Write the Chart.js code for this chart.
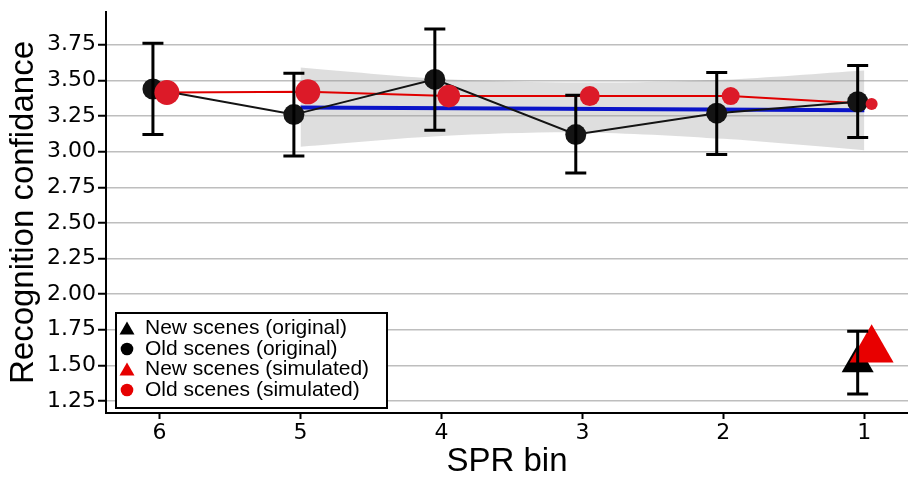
<!DOCTYPE html>
<html>
<head>
<meta charset="utf-8">
<script src="https://cdn.jsdelivr.net/npm/chart.js@4.4.0/dist/chart.umd.min.js"></script>
<style>
  html, body { margin: 0; padding: 0; background: #fff; }
  #wrap { width: 908px; height: 478px; }
</style>
</head>
<body>
<div id="wrap"><canvas id="confianza" width="908" height="478"></canvas></div>
<script>
// Bins de SPR (el eje x va de 6 a 1)
const bins = [6, 5, 4, 3, 2, 1];
const yTicks = [1.25, 1.5, 1.75, 2.0, 2.25, 2.5, 2.75, 3.0, 3.25, 3.5, 3.75];

// Escenas viejas (original): media e intervalo
const oldOrigMean = [3.44, 3.26, 3.507, 3.12, 3.27, 3.35];
const oldOrigLow = [3.12, 2.97, 3.15, 2.85, 2.98, 3.10];
const oldOrigHigh = [3.76, 3.55, 3.86, 3.395, 3.555, 3.605];

// Escenas viejas (simulado)
const oldSimMean = [3.415, 3.42, 3.39, 3.39, 3.39, 3.335];

// Escenas nuevas, solo en el bin 1
const newBins = [1];
const newOrigMean = [1.516];
const newOrigLow = [1.30];
const newOrigHigh = [1.74];
const newSimMean = [1.61];

// Ajuste lineal y su banda de confianza (bins 5 a 1)
const fitBins = [5, 1];
const fitValues = [3.31, 3.29];
const bandBins = [5, 4, 3, 2, 1];
const bandUpper = [3.59, 3.51, 3.485, 3.505, 3.57];
const bandLower = [3.035, 3.11, 3.135, 3.09, 3.01];

// Desplazamiento horizontal entre original y simulado
const dodgeOrig = 0.047;
const dodgeSim = -0.052;

const toPoints = (xs, ys, shift = 0) => xs.map((b, i) => ({ x: b + shift, y: ys[i] }));

const RED = '#e00000';
const RED_DOT = '#dc1a28';
const BLACK = '#141414';

// Barras de error de las series originales
const errorBars = {
    id: 'errorBars',
    afterDatasetDraw(chart, args) {
        if (chart.data.datasets[args.index].label !== 'New scenes (simulated)') return;
        const { ctx, scales: { x, y } } = chart;
        const bars = [
            ...bins.map((b, i) => ({ x: b + dodgeOrig, lo: oldOrigLow[i], hi: oldOrigHigh[i] })),
            ...newBins.map((b, i) => ({ x: b + dodgeOrig, lo: newOrigLow[i], hi: newOrigHigh[i] }))
        ];
        ctx.save();
        ctx.strokeStyle = '#000';
        ctx.lineWidth = 3;
        bars.forEach(bar => {
            const px = x.getPixelForValue(bar.x);
            const top = y.getPixelForValue(bar.hi);
            const bot = y.getPixelForValue(bar.lo);
            ctx.beginPath();
            ctx.moveTo(px, top); ctx.lineTo(px, bot);
            ctx.moveTo(px - 10.5, top); ctx.lineTo(px + 10.5, top);
            ctx.moveTo(px - 10.5, bot); ctx.lineTo(px + 10.5, bot);
            ctx.stroke();
        });
        ctx.restore();
    }
};

// Leyenda dentro del área del gráfico, abajo a la izquierda
const legendItems = [
    { text: 'New scenes (original)', shape: 'triangle', color: '#000' },
    { text: 'Old scenes (original)', shape: 'circle', color: '#000' },
    { text: 'New scenes (simulated)', shape: 'triangle', color: '#e60000' },
    { text: 'Old scenes (simulated)', shape: 'circle', color: '#e60000' }
];
const insideLegend = {
    id: 'insideLegend',
    afterDraw(chart) {
        const ctx = chart.ctx;
        const box = { x: 116, y: 313, w: 271, h: 95 };
        ctx.save();
        ctx.fillStyle = '#fff';
        ctx.fillRect(box.x, box.y, box.w, box.h);
        ctx.strokeStyle = '#000';
        ctx.lineWidth = 2;
        ctx.strokeRect(box.x, box.y, box.w, box.h);
        ctx.font = '21px "Liberation Sans", Arial, sans-serif';
        ctx.textBaseline = 'middle';
        legendItems.forEach((item, i) => {
            const cy = box.y + 15.5 + i * 20.5;
            const cx = 127;
            ctx.fillStyle = item.color;
            ctx.beginPath();
            if (item.shape === 'triangle') {
                ctx.moveTo(cx, cy - 7);
                ctx.lineTo(cx + 7.5, cy + 6);
                ctx.lineTo(cx - 7.5, cy + 6);
                ctx.closePath();
            } else {
                ctx.arc(cx, cy, 6.3, 0, Math.PI * 2);
            }
            ctx.fill();
            ctx.fillStyle = '#000';
            ctx.fillText(item.text, 145, cy);
        });
        ctx.restore();
    }
};

const ctx = document.getElementById('confianza').getContext('2d');
new Chart(ctx, {
    type: 'scatter',
    data: {
        datasets: [
            {
                label: 'Old scenes (simulated)',
                data: toPoints(bins, oldSimMean, dodgeSim),
                showLine: false,
                pointRadius: [12.5, 12.5, 11.3, 10, 9, 6],
                pointBackgroundColor: RED_DOT,
                pointBorderWidth: 0,
                order: 0
            },
            {
                label: 'New scenes (simulated)',
                data: toPoints(newBins, newSimMean, dodgeSim),
                showLine: false,
                pointStyle: 'triangle',
                pointRadius: 25.4,
                pointBackgroundColor: '#e80000',
                pointBorderWidth: 0,
                order: 1
            },
            {
                label: 'New scenes (original)',
                data: toPoints(newBins, newOrigMean, dodgeOrig),
                showLine: false,
                pointStyle: 'triangle',
                pointRadius: 18.5,
                pointBackgroundColor: '#000',
                pointBorderWidth: 0,
                order: 2
            },
            {
                label: 'Old scenes (original)',
                data: toPoints(bins, oldOrigMean, dodgeOrig),
                showLine: true,
                borderColor: BLACK,
                borderWidth: 2,
                pointRadius: 10.5,
                pointBackgroundColor: BLACK,
                pointBorderWidth: 0,
                order: 3
            },
            {
                label: 'Simulated line',
                data: toPoints(bins, oldSimMean, dodgeSim),
                showLine: true,
                borderColor: RED,
                borderWidth: 2,
                pointRadius: 0,
                order: 4
            },
            {
                label: 'Linear fit',
                data: toPoints(fitBins, fitValues),
                showLine: true,
                borderColor: '#0a14c8',
                borderWidth: 4,
                pointRadius: 0,
                order: 5
            },
            {
                label: 'Band upper',
                data: toPoints(bandBins, bandUpper),
                showLine: true,
                borderWidth: 0,
                borderColor: 'rgba(0,0,0,0)',
                backgroundColor: 'rgba(153,153,153,0.32)',
                fill: '+1',
                tension: 0.3,
                pointRadius: 0,
                order: 6
            },
            {
                label: 'Band lower',
                data: toPoints(bandBins, bandLower),
                showLine: true,
                borderWidth: 0,
                borderColor: 'rgba(0,0,0,0)',
                tension: 0.3,
                pointRadius: 0,
                order: 7
            }
        ]
    },
    options: {
        responsive: false,
        animation: false,
        devicePixelRatio: 1,
        layout: { autoPadding: false, padding: { top: 12, right: 0, left: 0, bottom: 0 } },
        plugins: {
            legend: { display: false },
            tooltip: { enabled: false }
        },
        scales: {
            x: {
                type: 'linear',
                reverse: true,
                min: 0.69,
                max: 6.38,
                afterBuildTicks: (axis) => { axis.ticks = bins.map(v => ({ value: v })); },
                afterFit: (axis) => {
                    axis.height = 65;
                    axis.paddingLeft = 0;
                    axis.paddingRight = 0;
                },
                grid: {
                    drawOnChartArea: false,
                    drawTicks: true,
                    tickLength: 6,
                    tickColor: '#000',
                    tickWidth: 2
                },
                border: { color: '#000', width: 2 },
                ticks: {
                    color: '#000',
                    padding: 1,
                    font: { family: '"DejaVu Sans", sans-serif', size: 22 }
                },
                title: {
                    display: true,
                    text: 'SPR bin',
                    color: '#000',
                    padding: { top: 0, bottom: 0 },
                    font: { family: '"Liberation Sans", Arial, sans-serif', size: 33, lineHeight: 1 }
                }
            },
            y: {
                type: 'linear',
                min: 1.166,
                max: 3.98,
                afterBuildTicks: (axis) => { axis.ticks = yTicks.map(v => ({ value: v })); },
                afterFit: (axis) => {
                    axis.width = 106;
                    axis.paddingTop = 0;
                    axis.paddingBottom = 0;
                },
                grid: {
                    color: 'rgb(190,190,190)',
                    lineWidth: 1.5,
                    tickLength: 8,
                    tickColor: '#000',
                    tickWidth: 2
                },
                border: { color: '#000', width: 2 },
                ticks: {
                    color: '#000',
                    padding: 2,
                    callback: (v) => v.toFixed(2),
                    font: { family: '"DejaVu Sans", sans-serif', size: 22 }
                },
                title: {
                    display: true,
                    text: 'Recognition confidance',
                    color: '#000',
                    padding: { top: 7, bottom: 0 },
                    font: { family: '"Liberation Sans", Arial, sans-serif', size: 33, lineHeight: 1 }
                }
            }
        }
    },
    plugins: [errorBars, insideLegend]
});
</script>
</body>
</html>
